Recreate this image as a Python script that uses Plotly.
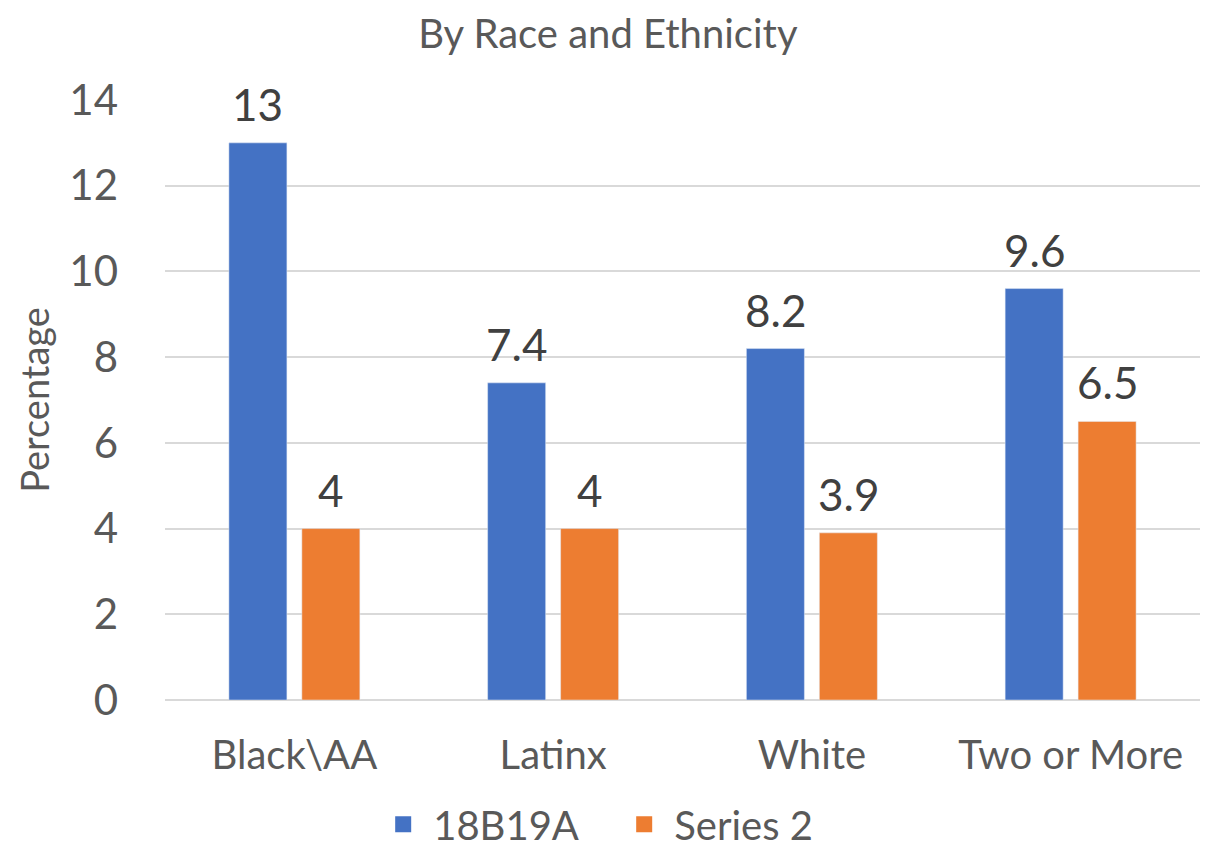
import plotly.graph_objects as go

categories = ["Black\\AA", "Latinx", "White", "Two or More"]
series1_name = "18B19A"
series1 = [13, 7.4, 8.2, 9.6]
series2_name = "Series 2"
series2 = [4, 4, 3.9, 6.5]
y_ticks = [0, 2, 4, 6, 8, 10, 12, 14]

FONT = "Lato"
GREY = "#595959"
LABEL = "#404040"
C1 = "#4472C4"
C2 = "#ED7D31"

fig = go.Figure()
fig.add_bar(x=categories, y=series1, name=series1_name, marker_color=C1, showlegend=False)
fig.add_bar(x=categories, y=series2, name=series2_name, marker_color=C2, showlegend=False)

# legend entries with large square swatches
fig.add_scatter(x=[None], y=[None], mode="markers", name=series1_name,
                marker=dict(symbol="square", size=29, color=C1))
fig.add_scatter(x=[None], y=[None], mode="markers", name=series2_name,
                marker=dict(symbol="square", size=29, color=C2))

# data labels above each bar
for vals, shift in ((series1, -36.5), (series2, 36.5)):
    for c, v in zip(categories, vals):
        fig.add_annotation(x=c, y=v, text=f"{v:g}", showarrow=False,
                           xshift=shift, yshift=11, yanchor="bottom",
                           font=dict(size=44, color=LABEL, family=FONT))

fig.update_layout(
    width=1207, height=845,
    paper_bgcolor="white", plot_bgcolor="white",
    margin=dict(l=157, r=15, t=92, b=153, autoexpand=False),
    barmode="group", bargap=0.436, bargroupgap=0.205,
    font=dict(family=FONT, color=GREY),
    title=dict(text="By Race and Ethnicity", x=0.497, xanchor="center", xref="container",
               y=1 - 26 / 845, yanchor="middle", yref="container",
               font=dict(size=40, color=GREY, family=FONT)),
    legend=dict(orientation="h", x=0.434, xanchor="center", y=-0.153, yanchor="top",
                font=dict(size=40, color=GREY, family=FONT), itemwidth=50,
                entrywidth=176, entrywidthmode="pixels",
                traceorder="normal"),
)
fig.update_xaxes(tickfont=dict(size=40, color=GREY, family=FONT), showgrid=False,
                 showline=False, ticks="", ticklabelstandoff=28, automargin=False)
fig.update_yaxes(range=[0, 14], tickvals=y_ticks, showgrid=True, gridcolor="#D9D9D9",
                 gridwidth=1.5, zeroline=True, zerolinecolor="#D9D9D9", zerolinewidth=1.5,
                 tickfont=dict(size=42, color=GREY, family=FONT), ticks="",
                 ticklabelstandoff=46, automargin=False,
                 title=dict(text="Percentage", font=dict(size=38, color=GREY, family=FONT),
                            standoff=7))

fig.write_html("out.html")
